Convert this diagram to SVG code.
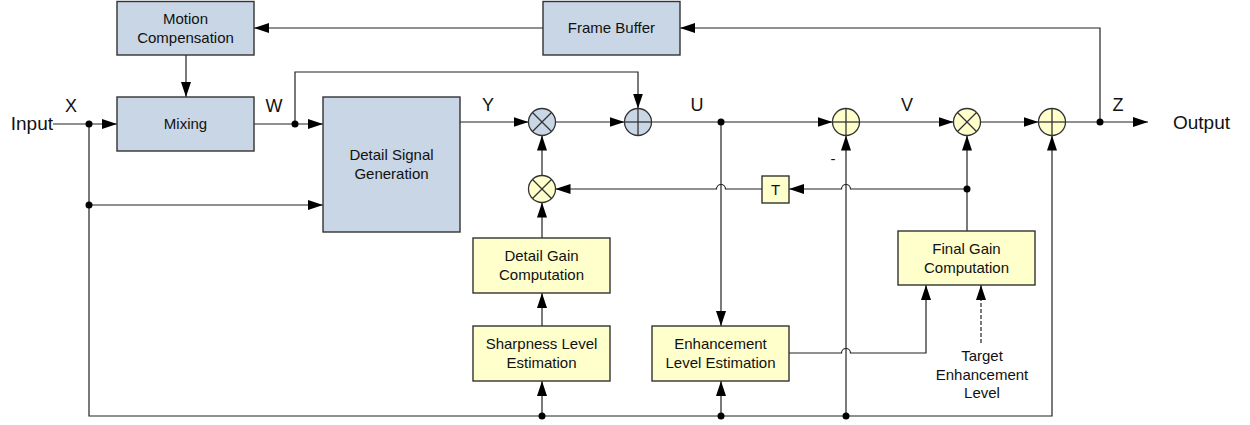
<svg xmlns="http://www.w3.org/2000/svg" width="1250" height="425" viewBox="0 0 1250 425">
<style>
.box rect{stroke:#333;stroke-width:1.4}
.blue{fill:#c8d6e5}
.yel{fill:#ffffcc}
text{font-family:"Liberation Sans",Arial,sans-serif;fill:#111}
.bt{font-size:15px;text-anchor:middle}
.lb{font-size:18px;text-anchor:middle}
.io{font-size:19px}
.op circle{stroke:#333;stroke-width:1.3}
.op line{stroke:#333;stroke-width:1.3}
#connectors path{fill:none;stroke:#222;stroke-width:1.2}
#connectors .dash{stroke-dasharray:4 2}
.dot{fill:#000}
</style>
<defs>
<marker id="ah" markerUnits="userSpaceOnUse" markerWidth="15" markerHeight="10" refX="15" refY="5" orient="auto">
<path d="M0,0 L15,5 L0,10 z" fill="#000"/>
</marker>
</defs>
<rect width="1250" height="425" fill="#fff"/>

<g id="connectors">
<path d="M53,124 H117" marker-end="url(#ah)"/>
<path d="M186,55 V97" marker-end="url(#ah)"/>
<path d="M543,28 H254" marker-end="url(#ah)"/>
<path d="M1100,122 V28 H680" marker-end="url(#ah)"/>
<path d="M254,124 H323" marker-end="url(#ah)"/>
<path d="M295,124 V72 H638 V108.5" marker-end="url(#ah)"/>
<path d="M89,205 H323" marker-end="url(#ah)"/>
<path d="M89,124 V416 H1052 V135.5" marker-end="url(#ah)"/>
<path d="M460,122 H528.5" marker-end="url(#ah)"/>
<path d="M555.5,122 H624.5" marker-end="url(#ah)"/>
<path d="M651.5,122 H832.5" marker-end="url(#ah)"/>
<path d="M859.5,122 H953.5" marker-end="url(#ah)"/>
<path d="M980.5,122 H1038.5" marker-end="url(#ah)"/>
<path d="M1065.5,122 H1148" marker-end="url(#ah)"/>
<path d="M542,175.5 V135.5" marker-end="url(#ah)"/>
<path d="M542,238 V202.5" marker-end="url(#ah)"/>
<path d="M542,326 V293" marker-end="url(#ah)"/>
<path d="M542,416 V381" marker-end="url(#ah)"/>
<path d="M721,416 V381" marker-end="url(#ah)"/>
<path d="M721,122 V326" marker-end="url(#ah)"/>
<path d="M846,416 V135.5" marker-end="url(#ah)"/>
<path d="M967,231 V135.5" marker-end="url(#ah)"/>
<path d="M967,189 H850.5 A4.5,4.5 0 0 0 841.5,189 H789" marker-end="url(#ah)"/>
<path d="M762,189 H725.5 A4.5,4.5 0 0 0 716.5,189 H555.5" marker-end="url(#ah)"/>
<path d="M789,353 H841.5 A4.5,4.5 0 0 1 850.5,353 H926 V285" marker-end="url(#ah)"/>
<path class="dash" d="M981,343 V285" marker-end="url(#ah)"/>
<circle class="dot" cx="89" cy="124" r="3.5"/>
<circle class="dot" cx="89" cy="205" r="3.5"/>
<circle class="dot" cx="295" cy="124" r="3.5"/>
<circle class="dot" cx="721" cy="122" r="3.5"/>
<circle class="dot" cx="1100" cy="122" r="3.5"/>
<circle class="dot" cx="967" cy="189" r="3.5"/>
<circle class="dot" cx="542" cy="416" r="3.5"/>
<circle class="dot" cx="721" cy="416" r="3.5"/>
<circle class="dot" cx="846" cy="416" r="3.5"/>
</g>

<g id="motion-compensation" class="box">
<rect class="blue" x="117" y="1.5" width="137" height="53.5"/>
<text class="bt" x="185.5" y="24">Motion</text>
<text class="bt" x="185.5" y="43">Compensation</text>
</g>
<g id="frame-buffer" class="box">
<rect class="blue" x="543" y="1.5" width="137" height="53.5"/>
<text class="bt" x="611.5" y="33">Frame Buffer</text>
</g>
<g id="mixing" class="box">
<rect class="blue" x="117" y="97" width="137" height="54"/>
<text class="bt" x="185.5" y="129">Mixing</text>
</g>
<g id="detail-signal-generation" class="box">
<rect class="blue" x="323" y="97" width="137" height="135"/>
<text class="bt" x="391.5" y="160">Detail Signal</text>
<text class="bt" x="391.5" y="179">Generation</text>
</g>
<g id="detail-gain-computation" class="box">
<rect class="yel" x="473" y="238" width="137" height="55"/>
<text class="bt" x="541.5" y="261">Detail Gain</text>
<text class="bt" x="541.5" y="280">Computation</text>
</g>
<g id="sharpness-level-estimation" class="box">
<rect class="yel" x="473" y="326" width="137" height="55"/>
<text class="bt" x="541.5" y="349">Sharpness Level</text>
<text class="bt" x="541.5" y="368">Estimation</text>
</g>
<g id="enhancement-level-estimation" class="box">
<rect class="yel" x="652" y="326" width="137" height="55"/>
<text class="bt" x="720.5" y="349">Enhancement</text>
<text class="bt" x="720.5" y="368">Level Estimation</text>
</g>
<g id="final-gain-computation" class="box">
<rect class="yel" x="898" y="231" width="137" height="54"/>
<text class="bt" x="966.5" y="254">Final Gain</text>
<text class="bt" x="966.5" y="273">Computation</text>
</g>
<g id="delay-t" class="box">
<rect class="yel" x="762" y="176" width="27" height="27"/>
<text class="bt" x="775.5" y="195">T</text>
</g>

<g id="mult-y" class="op">
<circle class="blue" cx="542" cy="122" r="13.5"/>
<line x1="532.5" y1="112.5" x2="551.5" y2="131.5"/>
<line x1="551.5" y1="112.5" x2="532.5" y2="131.5"/>
</g>
<g id="add-u" class="op">
<circle class="blue" cx="638" cy="122" r="13.5"/>
<line x1="624.5" y1="122" x2="651.5" y2="122"/>
<line x1="638" y1="108.5" x2="638" y2="135.5"/>
</g>
<g id="add-v" class="op">
<circle class="yel" cx="846" cy="122" r="13.5"/>
<line x1="832.5" y1="122" x2="859.5" y2="122"/>
<line x1="846" y1="108.5" x2="846" y2="135.5"/>
</g>
<g id="mult-v" class="op">
<circle class="yel" cx="967" cy="122" r="13.5"/>
<line x1="957.5" y1="112.5" x2="976.5" y2="131.5"/>
<line x1="976.5" y1="112.5" x2="957.5" y2="131.5"/>
</g>
<g id="add-z" class="op">
<circle class="yel" cx="1052" cy="122" r="13.5"/>
<line x1="1038.5" y1="122" x2="1065.5" y2="122"/>
<line x1="1052" y1="108.5" x2="1052" y2="135.5"/>
</g>
<g id="mult-gain" class="op">
<circle class="yel" cx="542" cy="189" r="13.5"/>
<line x1="532.5" y1="179.5" x2="551.5" y2="198.5"/>
<line x1="551.5" y1="179.5" x2="532.5" y2="198.5"/>
</g>

<g id="labels">
<text class="io" x="53" y="130" text-anchor="end">Input</text>
<text class="io" x="1173" y="129">Output</text>
<text class="lb" x="71" y="112">X</text>
<text class="lb" x="274" y="112">W</text>
<text class="lb" x="488" y="111">Y</text>
<text class="lb" x="697" y="111">U</text>
<text class="lb" x="907" y="111">V</text>
<text class="lb" x="1118" y="111">Z</text>
<text class="bt" x="833" y="164">-</text>
<text class="bt" x="982" y="361">Target</text>
<text class="bt" x="982" y="380">Enhancement</text>
<text class="bt" x="982" y="398">Level</text>
</g>
</svg>
